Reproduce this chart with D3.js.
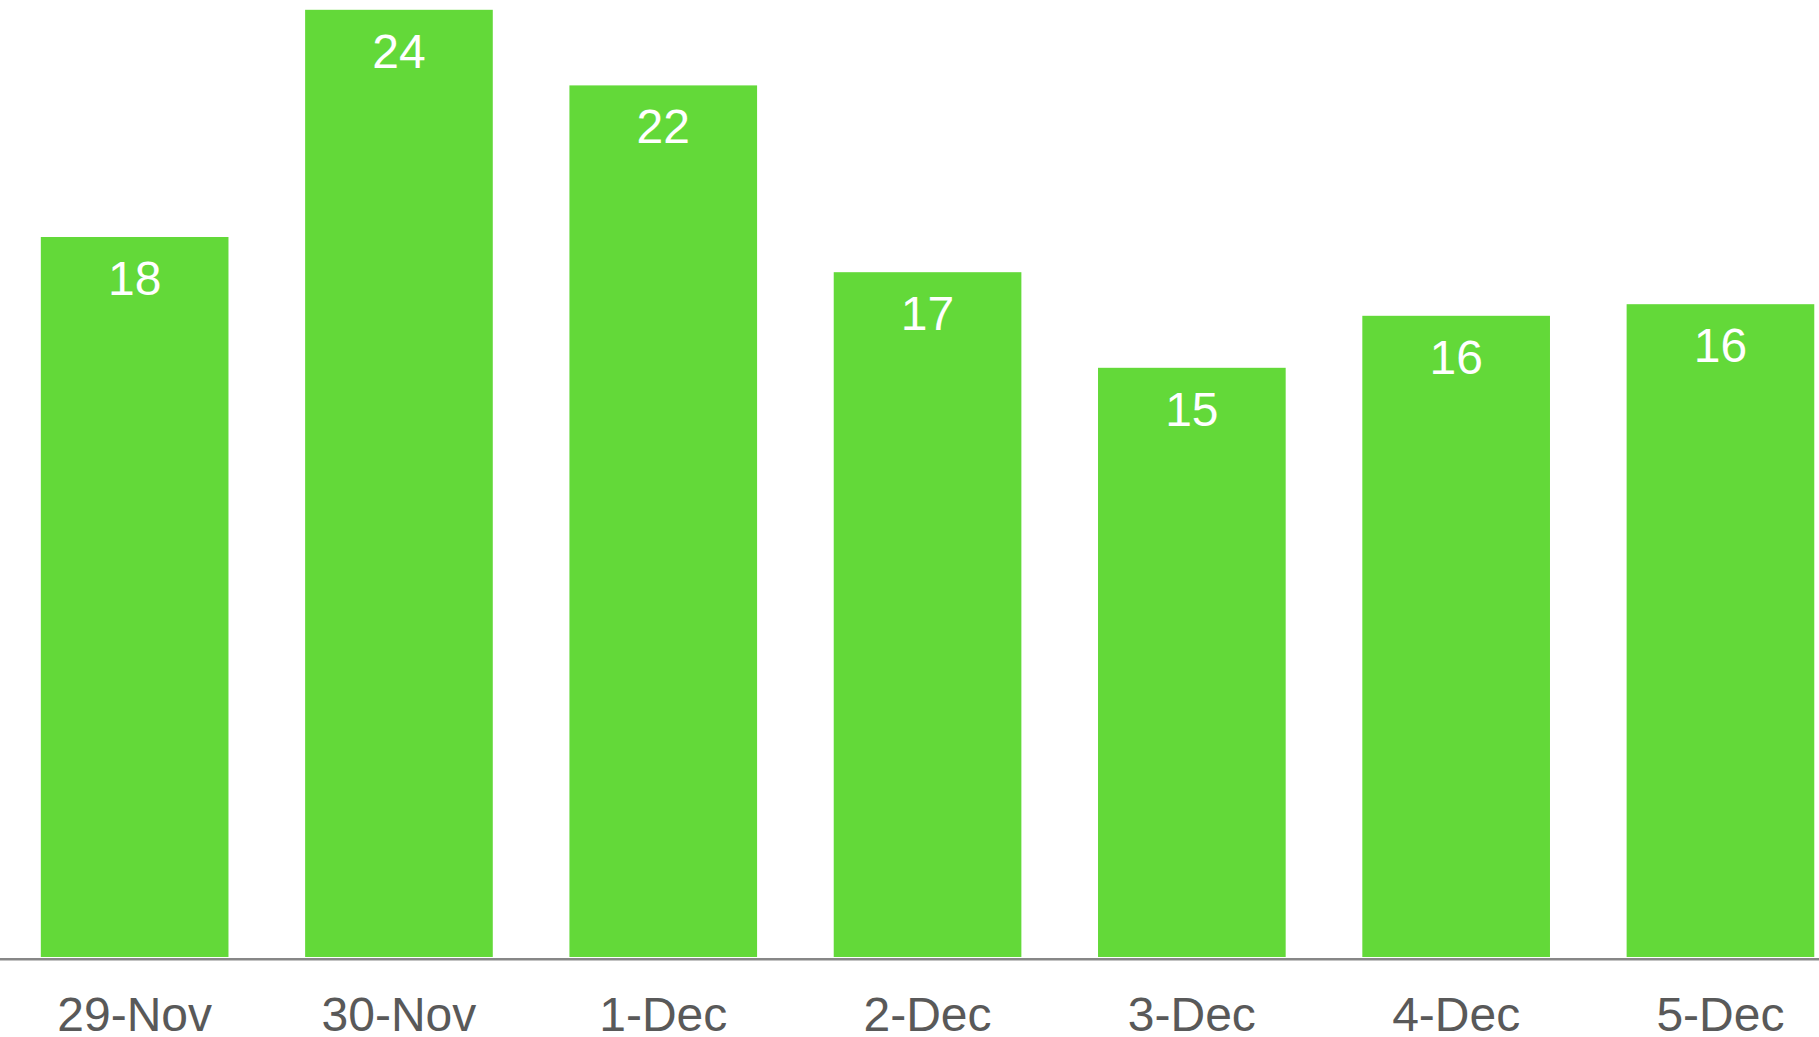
<!DOCTYPE html>
<html lang="en">

<head>
    <meta charset="UTF-8">
    <title>Daily values</title>
    <style>
        body {
            margin: 0;
            background-color: white;
            overflow: hidden;
        }

        svg {
            display: block;
            background-color: white;
        }

        text {
            font-family: Arial, "Liberation Sans", sans-serif;
        }
    </style>
</head>

<body>
    <script src="https://d3js.org/d3.v7.min.js"></script>
    <script>
        // data
        const days = ['29-Nov', '30-Nov', '1-Dec', '2-Dec', '3-Dec', '4-Dec', '5-Dec'];
        const values = [18.0, 23.68, 21.79, 17.12, 14.73, 16.03, 16.32];

        const width = 1819,
            height = 1037;
        const baseline = 957;

        let svg = d3.select('body')
            .append('svg')
            .attr('width', width)
            .attr('height', height);

        let x = d3.scaleBand()
            .domain(days)
            .range([2.5, 1852.6])
            .paddingInner(0.29)
            .paddingOuter(0.145);

        let y = d3.scaleLinear()
            .domain([0, 24])
            .range([baseline, baseline - 24 * 40]);

        let bars = svg.append('g').attr('id', 'bars');

        bars.selectAll('rect')
            .data(values)
            .enter()
            .append('rect')
            .attr('x', (d, i) => x(days[i]))
            .attr('y', d => y(d))
            .attr('width', x.bandwidth())
            .attr('height', d => y(0) - y(d))
            .attr('fill', '#63d939');

        // value labels inside the top of each bar
        bars.selectAll('text')
            .data(values)
            .enter()
            .append('text')
            .attr('x', (d, i) => x(days[i]) + x.bandwidth() / 2)
            .attr('y', d => y(d) + 58)
            .attr('text-anchor', 'middle')
            .attr('font-size', 48)
            .attr('fill', 'white')
            .text(d => Math.round(d));

        // category axis
        svg.append('line')
            .attr('x1', 0)
            .attr('x2', width)
            .attr('y1', 959.3)
            .attr('y2', 959.3)
            .attr('stroke', '#878787')
            .attr('stroke-width', 2.5);

        svg.append('g')
            .selectAll('text')
            .data(days)
            .enter()
            .append('text')
            .attr('x', d => x(d) + x.bandwidth() / 2)
            .attr('y', 1031)
            .attr('text-anchor', 'middle')
            .attr('font-size', 48)
            .attr('fill', '#595959')
            .text(d => d);
    </script>
</body>

</html>
